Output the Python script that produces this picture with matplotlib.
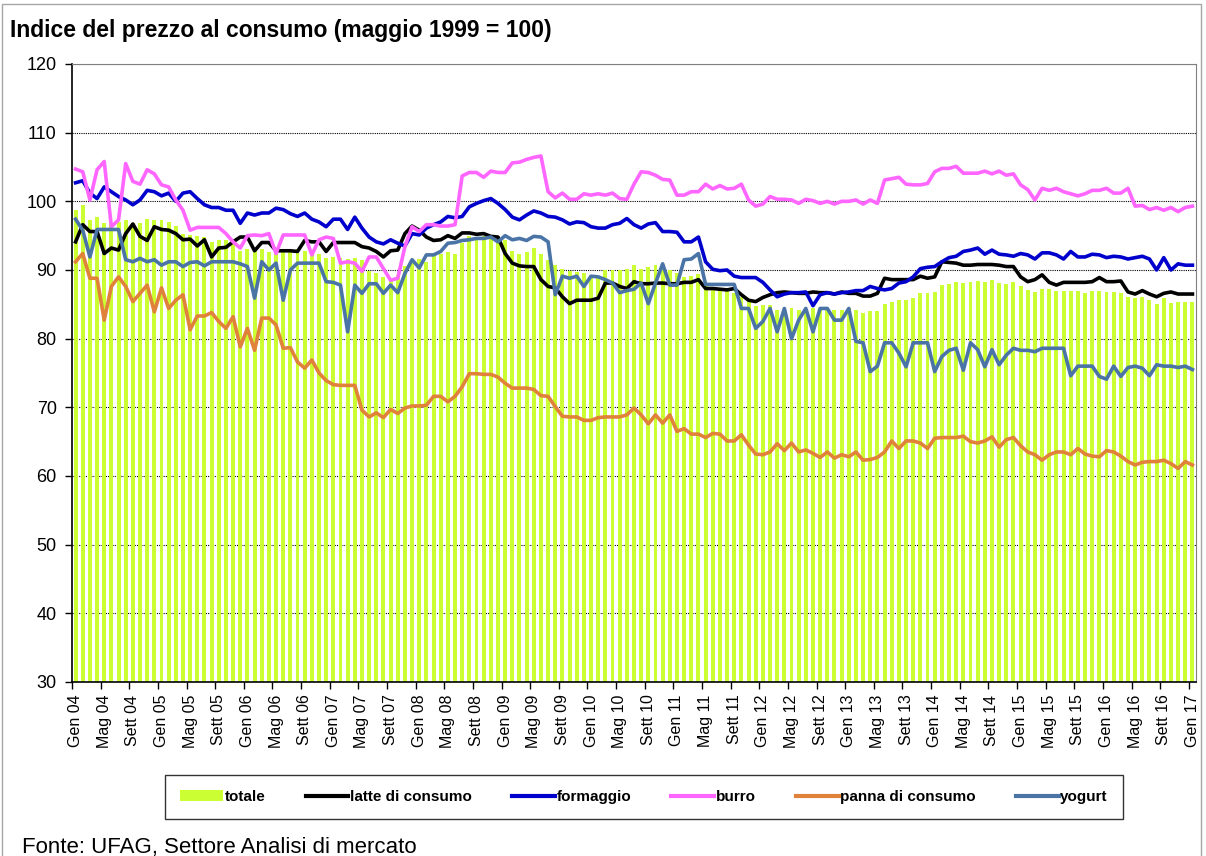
import numpy as np
import matplotlib
matplotlib.use("Agg")
import matplotlib.pyplot as plt
from matplotlib.patches import Patch, Rectangle
from matplotlib.lines import Line2D

plt.rcParams["font.family"] = ["Liberation Sans", "DejaVu Sans"]

# monthly index values, Gen 04 .. Gen 17 (157 months)
totale = [98.7, 99.5, 97.3, 97.7, 96.8, 96.9, 97.0, 97.3, 96.8, 96.8, 97.4, 97.3, 97.3, 97.0, 96.4, 95.3, 95.1, 94.9, 94.8, 94.1, 94.4, 94.4, 94.4, 92.8, 93.1, 93.0, 93.0,
          92.6, 92.8, 92.7, 92.6, 93.0, 92.8, 92.6, 92.3, 91.7, 91.9, 91.8, 91.6, 91.7, 91.4, 89.8, 89.5, 89.0, 88.8, 89.3, 90.6, 91.4, 91.6, 91.2, 92.3, 92.4, 92.6,
          92.4, 93.9, 94.9, 94.8, 94.9, 95.1, 94.9, 94.3, 92.7, 92.4, 92.6, 93.2, 92.4, 91.5, 90.7, 90.2, 89.8, 89.7, 89.5, 89.3, 89.0, 90.0, 90.0, 90.0, 90.2, 90.7,
          90.2, 90.4, 90.7, 90.3, 90.0, 89.5, 89.0, 89.1, 89.4, 87.6, 87.4, 87.1, 86.9, 86.6, 86.1, 85.6, 84.7, 84.9, 84.9, 84.2, 84.2, 84.4, 84.2, 84.2, 84.4, 84.2,
          84.2, 84.2, 84.2, 84.4, 84.2, 83.8, 84.0, 84.1, 85.1, 85.4, 85.6, 85.6, 85.9, 86.6, 86.7, 86.8, 87.8, 88.0, 88.2, 88.1, 88.3, 88.4, 88.2, 88.5, 88.1, 88.0,
          88.2, 87.7, 87.1, 86.8, 87.3, 87.2, 87.0, 86.9, 86.9, 86.9, 86.7, 86.9, 86.9, 86.8, 86.8, 86.6, 86.1, 85.9, 86.1, 85.6, 85.0, 85.9, 85.2, 85.3, 85.3, 85.3]

latte = [94.1, 96.6, 95.6, 95.6, 92.4, 93.2, 92.9, 95.3, 96.7, 94.9, 94.3, 96.3, 95.9, 95.8, 95.3, 94.4, 94.5, 93.5, 94.4, 91.9, 93.2, 93.3, 94.1, 94.8, 94.8, 92.8, 94.0,
         94.0, 92.8, 92.8, 92.8, 92.7, 94.3, 94.1, 94.1, 92.7, 94.0, 94.0, 94.0, 94.0, 93.4, 93.2, 92.7, 91.9, 92.8, 92.9, 95.3, 96.4, 95.8, 94.8, 94.3, 94.4, 95.0,
         94.6, 95.4, 95.4, 95.2, 95.3, 94.9, 94.8, 92.4, 91.0, 90.6, 90.5, 90.5, 88.6, 87.6, 87.4, 86.1, 85.1, 85.6, 85.6, 85.6, 85.9, 88.1, 88.1, 87.6, 87.3, 88.3,
         88.0, 88.0, 88.1, 88.1, 88.0, 88.0, 88.2, 88.2, 88.6, 87.3, 87.3, 87.2, 87.1, 87.3, 86.4, 85.6, 85.4, 86.0, 86.4, 86.7, 86.8, 86.7, 86.6, 86.6, 86.8, 86.7,
         86.7, 86.5, 86.8, 86.6, 86.6, 86.2, 86.2, 86.6, 88.8, 88.6, 88.6, 88.6, 88.6, 89.1, 88.8, 89.0, 91.2, 91.1, 91.0, 90.7, 90.7, 90.8, 90.8, 90.8, 90.7, 90.5,
         90.5, 89.0, 88.3, 88.6, 89.3, 88.2, 87.8, 88.2, 88.2, 88.2, 88.2, 88.3, 88.9, 88.3, 88.3, 88.4, 86.8, 86.5, 87.0, 86.5, 86.1, 86.6, 86.8, 86.5, 86.5, 86.5]

formaggio = [102.7, 103.0, 101.2, 100.4, 102.1, 101.4, 100.7, 100.2, 99.5, 100.2, 101.6, 101.4, 100.8, 101.2, 100.0, 101.2, 101.4, 100.4, 99.5, 99.1, 99.1, 98.7, 98.7, 96.8, 98.3, 98.0, 98.3,
             98.3, 99.0, 98.8, 98.2, 97.8, 98.3, 97.4, 97.0, 96.3, 97.4, 97.4, 95.9, 97.7, 96.1, 94.8, 94.1, 93.8, 94.4, 93.9, 93.5, 95.3, 95.1, 96.1, 96.6, 97.0, 97.8,
             97.6, 97.8, 99.2, 99.7, 100.1, 100.4, 99.7, 98.8, 97.7, 97.3, 98.0, 98.6, 98.3, 97.8, 97.7, 97.3, 96.7, 97.0, 96.9, 96.3, 96.1, 96.1, 96.6, 96.8, 97.5, 96.6,
             96.1, 96.7, 96.9, 95.6, 95.6, 95.5, 94.1, 94.1, 94.8, 91.2, 90.1, 89.9, 90.0, 89.1, 88.9, 88.9, 88.9, 88.2, 87.1, 86.1, 86.5, 86.7, 86.7, 86.8, 84.8, 86.4,
             86.7, 86.5, 86.7, 86.8, 87.0, 87.0, 87.6, 87.3, 87.1, 87.3, 88.1, 88.3, 89.0, 90.2, 90.4, 90.5, 91.2, 91.8, 92.0, 92.7, 92.9, 93.2, 92.3, 92.9, 92.3, 92.2,
             92.0, 92.4, 92.2, 91.6, 92.5, 92.5, 92.2, 91.6, 92.7, 91.9, 91.9, 92.3, 92.2, 91.8, 92.0, 91.9, 91.6, 91.8, 92.0, 91.6, 90.0, 91.8, 90.0, 90.9, 90.7, 90.7]

burro = [104.7, 104.3, 100.2, 104.6, 105.8, 96.3, 97.3, 105.5, 102.9, 102.5, 104.6, 104.0, 102.4, 102.1, 100.2, 98.7, 95.8, 96.2, 96.2, 96.2, 96.2, 95.3, 94.1, 93.2, 95.0, 95.1, 95.0,
         95.3, 92.4, 95.1, 95.1, 95.1, 95.1, 92.2, 94.4, 94.8, 94.6, 91.0, 91.2, 91.0, 89.8, 91.9, 91.9, 90.2, 88.5, 88.8, 93.4, 96.3, 95.6, 96.6, 96.6, 96.4, 96.4,
         96.6, 103.7, 104.2, 104.2, 103.5, 104.4, 104.2, 104.2, 105.6, 105.7, 106.1, 106.4, 106.6, 101.4, 100.5, 101.2, 100.3, 100.3, 101.1, 100.9, 101.1, 100.9, 101.2, 100.4, 100.3, 102.5,
         104.3, 104.2, 103.8, 103.2, 103.1, 100.9, 100.9, 101.4, 101.4, 102.5, 101.8, 102.3, 101.8, 101.9, 102.5, 100.2, 99.3, 99.6, 100.7, 100.3, 100.3, 100.2, 99.7, 100.3, 100.1, 99.7,
         100.0, 99.6, 100.0, 100.0, 100.2, 99.6, 100.2, 99.7, 103.1, 103.3, 103.5, 102.5, 102.4, 102.4, 102.6, 104.3, 104.8, 104.8, 105.1, 104.1, 104.1, 104.1, 104.4, 104.0, 104.4, 103.8,
         104.0, 102.4, 101.7, 100.2, 101.9, 101.6, 101.9, 101.4, 101.1, 100.8, 101.1, 101.6, 101.6, 101.9, 101.2, 101.2, 101.9, 99.3, 99.4, 98.8, 99.1, 98.7, 99.1, 98.5, 99.1, 99.3]

panna = [91.2, 92.4, 88.8, 88.8, 82.7, 87.6, 89.0, 87.6, 85.4, 86.6, 87.8, 83.9, 87.4, 84.4, 85.6, 86.4, 81.3, 83.3, 83.3, 83.8, 82.5, 81.5, 83.2, 78.8, 81.5, 78.3, 83.0,
         83.0, 82.0, 78.6, 78.7, 76.6, 75.7, 76.9, 75.0, 73.9, 73.3, 73.2, 73.2, 73.2, 69.6, 68.6, 69.2, 68.5, 69.7, 69.1, 69.9, 70.2, 70.2, 70.3, 71.6, 71.6, 70.8,
         71.6, 73.0, 74.9, 74.9, 74.8, 74.8, 74.4, 73.5, 72.8, 72.8, 72.8, 72.6, 71.7, 71.6, 70.1, 68.7, 68.6, 68.6, 68.1, 68.1, 68.5, 68.6, 68.6, 68.6, 68.9, 69.9,
         68.9, 67.6, 68.9, 67.7, 68.9, 66.5, 66.9, 66.1, 66.1, 65.6, 66.2, 66.1, 65.1, 65.1, 66.0, 64.5, 63.2, 63.1, 63.5, 64.7, 63.7, 64.8, 63.5, 63.8, 63.3, 62.7,
         63.5, 62.6, 63.1, 62.8, 63.5, 62.3, 62.4, 62.7, 63.5, 65.1, 64.0, 65.1, 65.1, 64.8, 64.0, 65.5, 65.6, 65.6, 65.6, 65.8, 65.0, 64.8, 65.1, 65.7, 64.2, 65.3,
         65.6, 64.4, 63.5, 63.1, 62.3, 63.1, 63.5, 63.5, 63.1, 64.0, 63.2, 62.9, 62.8, 63.7, 63.5, 62.9, 62.1, 61.6, 62.0, 62.1, 62.1, 62.3, 61.8, 61.1, 62.1, 61.6]

yogurt = [97.4, 95.8, 91.9, 95.9, 95.9, 95.9, 95.9, 91.5, 91.2, 91.7, 91.2, 91.5, 90.7, 91.2, 91.2, 90.5, 91.1, 91.2, 90.6, 91.2, 91.2, 91.2, 91.2, 90.9, 90.5, 85.9, 91.2,
          90.0, 91.0, 85.6, 90.0, 91.0, 91.0, 91.0, 91.0, 88.3, 88.2, 87.8, 81.0, 87.8, 86.6, 88.0, 88.0, 86.6, 87.8, 86.7, 89.5, 91.5, 90.3, 92.2, 92.2, 92.7, 93.9,
          94.0, 94.3, 94.4, 94.6, 94.6, 94.8, 94.1, 95.0, 94.4, 94.6, 94.3, 94.9, 94.8, 94.1, 86.4, 89.1, 88.8, 89.1, 87.6, 89.1, 89.0, 88.6, 88.1, 86.7, 87.0, 87.2,
          88.1, 85.1, 88.1, 90.9, 87.8, 87.8, 91.5, 91.6, 92.4, 87.9, 87.9, 87.9, 87.9, 87.9, 84.4, 84.4, 81.5, 82.5, 84.4, 81.0, 84.4, 80.0, 82.7, 84.4, 81.0, 84.4,
          84.4, 82.7, 82.7, 84.4, 79.6, 79.4, 75.2, 76.0, 79.4, 79.4, 77.9, 75.9, 79.4, 79.4, 79.4, 75.2, 77.4, 78.3, 78.6, 75.4, 79.4, 78.4, 75.9, 78.4, 76.2, 77.6,
          78.6, 78.3, 78.3, 78.1, 78.6, 78.6, 78.6, 78.6, 74.6, 76.0, 76.0, 76.0, 74.5, 74.1, 76.0, 74.5, 75.8, 76.0, 75.7, 74.6, 76.2, 76.0, 76.0, 75.8, 76.0, 75.5]

tick_labels = [f"{m} {y:02d}" for y in range(4, 17) for m in ("Gen", "Mag", "Sett")] + ["Gen 17"]

for s in (totale, latte, formaggio, burro, panna, yogurt):
    assert len(s) == 157, len(s)

W, H = 1206, 856
fig = plt.figure(figsize=(W / 100, H / 100), dpi=100)
ax = fig.add_axes([72 / W, 1 - 682 / H, (1196 - 72) / W, (682 - 64) / H])

x = np.arange(len(totale))
ax.bar(x, totale, width=0.55, color="#CCFF33", zorder=2)

series = [("latte di consumo", latte, "#000000"),
          ("formaggio", formaggio, "#0000CC"),
          ("burro", burro, "#FF66FF"),
          ("panna di consumo", panna, "#E0823A"),
          ("yogurt", yogurt, "#4A74A6")]
for name, vals, col in series:
    ax.plot(x, vals, color=col, lw=2.6, zorder=3, solid_joinstyle="round")

ax.set_xlim(-0.5, len(totale) - 0.5)
ax.set_ylim(30, 120)
ax.set_yticks(range(30, 121, 10))
ax.yaxis.grid(True, linestyle=(0, (1, 1)), color="black", lw=0.8, zorder=1)
ax.set_axisbelow(True)
ax.tick_params(axis="y", labelsize=13, length=5, width=1, direction="out", pad=6)

ax.set_xticks(np.arange(0, len(totale), 4))
ax.set_xticklabels(tick_labels, rotation=90, fontsize=11.5)
ax.tick_params(axis="x", which="major", length=0, pad=9)
ax.set_xticks(np.arange(-0.5, len(totale), 4), minor=True)
ax.tick_params(axis="x", which="minor", length=5, width=1, direction="out")

for side in ("top", "right"):
    ax.spines[side].set_color("#808080")
for side in ("left", "bottom"):
    ax.spines[side].set_color("black")
    ax.spines[side].set_linewidth(1.2)

# legend
handles = [Patch(facecolor="#CCFF33", edgecolor="none", label="totale")]
handles += [Line2D([], [], color=c, lw=3, label=n) for n, _, c in series]
leg = fig.legend(handles=handles, loc="center", ncol=6, mode="expand",
                 bbox_to_anchor=(165 / W, 1 - 822 / H, 958 / W, 50 / H),
                 prop={"weight": "bold", "size": 11}, frameon=True, fancybox=False,
                 edgecolor="black", handlelength=2.8, handletextpad=0.1,
                 borderpad=1.0, borderaxespad=0)
leg.get_frame().set_linewidth(1.0)

fig.text(10 / W, 1 - 31 / H, "Indice del prezzo al consumo (maggio 1999 = 100)",
         fontsize=16.5, fontweight="bold", va="center", ha="left")
fig.text(22 / W, 3 / H, "Fonte: UFAG, Settore Analisi di mercato",
         fontsize=16, va="baseline", ha="left")

fig.patches.append(Rectangle((2 / W, -0.01), (1201 - 2) / W, 1.005, transform=fig.transFigure,
                             fill=False, edgecolor="#A6A6A6", lw=1))

fig.savefig("out.png", dpi=100)
